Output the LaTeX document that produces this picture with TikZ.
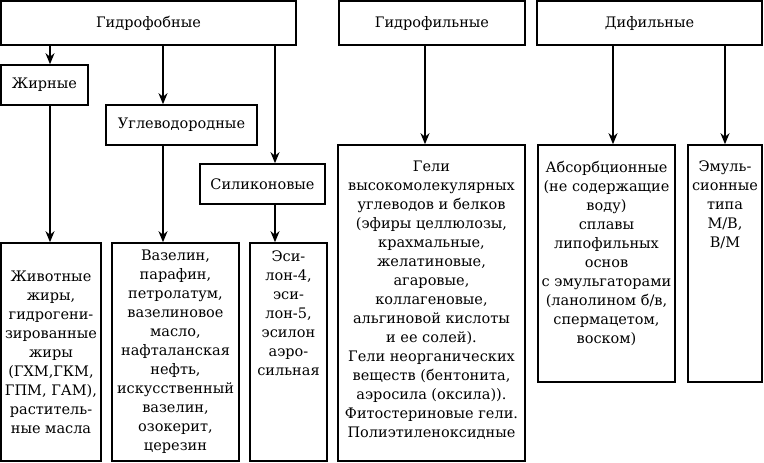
\documentclass[tikz,border=0pt]{standalone}
\usepackage{fontspec}
\setmainfont{DejaVu Serif}
\usetikzlibrary{arrows.meta}
\tikzset{
  boxn/.style={draw, line width=1.6pt, inner sep=0pt, align=center, font=\fontsize{14.5}{19}\selectfont},
  arr/.style={line width=1.3pt, -{Stealth[length=11pt,width=9pt,inset=3.5pt]}},
}
\newcommand{\tb}[3]{\parbox[c][#2pt][t]{#1pt}{\centering\vspace*{8pt}#3\par}}
\begin{document}
\begin{tikzpicture}[x=1pt,y=-1pt]
\useasboundingbox (0,0) rectangle (764,463);
% top level
\node[boxn, minimum width=295pt, minimum height=44pt] (hfob) at (148.5,23) {Гидрофобные};
\node[boxn, minimum width=186pt, minimum height=44pt] (hfil) at (432,23) {Гидрофильные};
\node[boxn, minimum width=225pt, minimum height=44pt] (dif) at (649.5,23) {Дифильные};
% middle level
\node[boxn, minimum width=87pt, minimum height=40pt] (zhir) at (44.5,85) {Жирные};
\node[boxn, minimum width=151pt, minimum height=40pt] (ugl) at (181.5,125) {Углеводородные};
\node[boxn, minimum width=125pt, minimum height=40pt] (sil) at (262.5,184) {Силиконовые};
% bottom level
\node[boxn, minimum width=100pt, minimum height=218pt] (zhiv) at (51,352)
  {Животные\\жиры,\\гидрогени-\\зированные\\жиры\\(ГХМ,ГКМ,\\ГПМ, ГАМ),\\раститель-\\ные масла};
\node[boxn, minimum width=127pt, minimum height=218pt] (vaz) at (175.5,352)
  {Вазелин,\\парафин,\\петролатум,\\вазелиновое\\масло,\\нафталанская\\нефть,\\искусственный\\вазелин,\\озокерит,\\церезин};
\node[boxn] (esil) at (288.5,352)
  {\tb{77}{218}{Эси-\\лон-4,\\эси-\\лон-5,\\эсилон\\аэро-\\сильная}};
\node[boxn] (geli) at (431.5,303)
  {\tb{187}{316}{\vspace*{8pt}Гели\\высокомолекулярных\\углеводов и белков\\(эфиры целлюлозы,\\крахмальные,\\желатиновые,\\агаровые,\\коллагеновые,\\альгиновой кислоты\\и ее солей).\\Гели неорганических\\веществ (бентонита,\\аэросила (оксила)).\\Фитостериновые гели.\\Полиэтиленоксидные}};
\node[boxn] (abs) at (606.5,263.5)
  {\tb{137}{237}{\vspace*{8pt}Абсорбционные\\(не содержащие\\воду)\\сплавы\\липофильных\\основ\\с эмульгаторами\\(ланолином б/в,\\спермацетом,\\воском)}};
\node[boxn] (emul) at (725,263.5)
  {\tb{74}{237}{\vspace*{8pt}Эмуль-\\сионные\\типа\\М/В,\\В/М}};
% arrows
\draw[arr] (hfob.south -| 50,0) -- (zhir.north -| 50,0);
\draw[arr] (hfob.south -| 163,0) -- (ugl.north -| 163,0);
\draw[arr] (hfob.south -| 275,0) -- (sil.north -| 275,0);
\draw[arr] (zhir.south -| 50,0) -- (zhiv.north -| 50,0);
\draw[arr] (ugl.south -| 163,0) -- (vaz.north -| 163,0);
\draw[arr] (sil.south -| 275,0) -- (esil.north -| 275,0);
\draw[arr] (hfil.south -| 425,0) -- (geli.north -| 425,0);
\draw[arr] (dif.south -| 613,0) -- (abs.north -| 613,0);
\draw[arr] (dif.south -| 725,0) -- (emul.north -| 725,0);
\end{tikzpicture}
\end{document}
